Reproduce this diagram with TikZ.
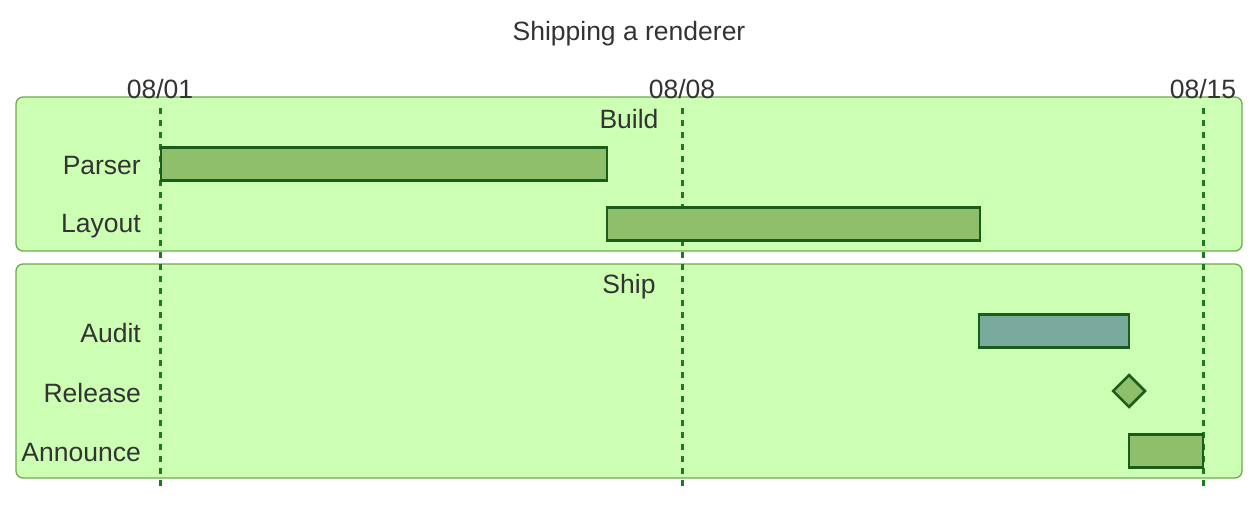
\documentclass[tikz,border=0pt]{standalone}
\usepackage{fontspec}
\setmainfont{Liberation Sans}
\usetikzlibrary{positioning,shapes.geometric}
\definecolor{secfill}{HTML}{CCFFB3}
\definecolor{secline}{HTML}{6FAA4F}
\definecolor{barfill}{HTML}{8FBF6A}
\definecolor{barline}{HTML}{1A5C1A}
\definecolor{critfill}{HTML}{7AAA9C}
\definecolor{gridline}{HTML}{1E7A1E}
\definecolor{txt}{HTML}{333333}
\tikzset{
  section/.style={draw=secline, fill=secfill, rounded corners=7pt, line width=1.3pt},
  bar/.style={draw=barline, fill=barfill, line width=2.5pt, minimum height=33pt, inner sep=0pt},
  crit/.style={bar, fill=critfill},
  task/.style={anchor=east, inner sep=0pt, text=txt, font=\fontsize{26.5}{30}\selectfont},
  tick/.style={inner sep=0pt, text=txt, font=\fontsize{26.5}{30}\selectfont},
  today/.style={draw=gridline, dash pattern=on 6pt off 6pt, line width=3pt}
}
\begin{document}
\begin{tikzpicture}[x=1pt, y=-1pt]
\useasboundingbox (0,0) rectangle (1259,504);
\node[tick] (title) at (629,34) {Shipping a renderer};

% sections
\draw[section] (16,97) rectangle (1242,251);
\draw[section] (16,264) rectangle (1242,478);
\node[tick] (build) at (629,119) {Build};
\node[tick] (ship) at (629,287) {Ship};

% date axis
\foreach \x/\d/\n in {160/08\slash01/a, 682/08\slash08/b, 1203/08\slash15/c}{
  \node[tick] (d\n) at (\x,89) {\d};
  \coordinate (g\n) at (\x,488);
  \draw[today] (\x,108) -- (g\n);
}

% tasks
\node[task] (lparser) at (141,166) {Parser};
\node[task] (llayout) at (141,226) {Layout};
\node[task] (laudit) at (141,333) {Audit};
\node[task] (lrelease) at (141,393) {Release};
\node[task] (lannounce) at (141,453) {Announce};

\node[bar, minimum width=446pt] (parser) at (384,164) {};
\node[bar, minimum width=373pt] (layout) at (793.5,224) {};
\node[crit, minimum width=150pt] (audit) at (1054,331) {};
\node[bar, diamond, minimum width=33pt, minimum height=33pt] (release) at (1129,391) {};
\node[bar, minimum width=74pt] (announce) at (1166,451) {};
\end{tikzpicture}
\end{document}
